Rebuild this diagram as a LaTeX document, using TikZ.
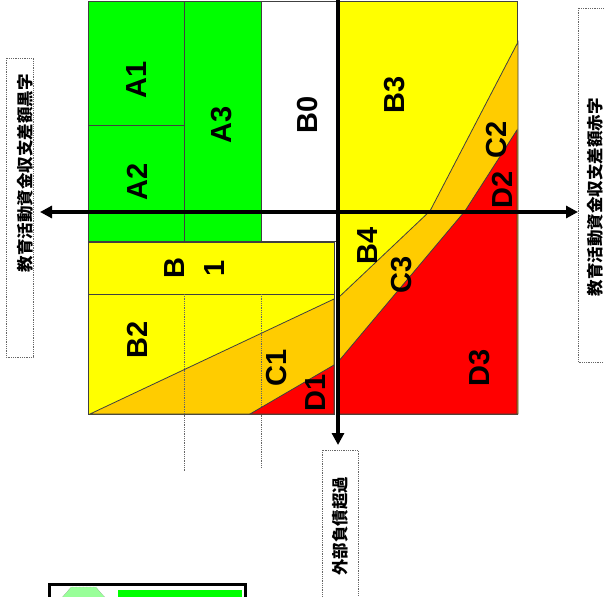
\documentclass[tikz,border=0pt]{standalone}
\usepackage{fontspec}
\setmainfont{Liberation Sans}
\newfontfamily\jpfont{Noto Sans CJK JP}
\usetikzlibrary{arrows.meta}
\definecolor{zoneA}{HTML}{00FF00}
\definecolor{zoneB}{HTML}{FFFF00}
\definecolor{zoneC}{HTML}{FFCC00}
\definecolor{zoneD}{HTML}{FF0000}
\definecolor{legendA}{HTML}{99FF99}

\begin{document}
\begin{tikzpicture}[x=1pt, y=-1pt,
  every node/.style={font=\bfseries\fontsize{29}{40}\selectfont, rotate=90, inner sep=0pt, align=center},
  zone/.style={draw=black!75, line width=0.8pt},
  guide/.style={draw=black!60, densely dotted, line width=0.8pt},
  axis/.style={line width=4pt},
  tag/.style={font=\jpfont\bfseries\fontsize{16.5}{18}\selectfont},
  tagbox/.style={draw=black!60, densely dotted, line width=0.8pt}]
  \useasboundingbox (0,0) rectangle (604,596);

  % left half
  \path[zone, fill=zoneA] (88,1) rectangle (184,125);
  \path[zone, fill=zoneA] (88,125) rectangle (184,241);
  \path[zone, fill=zoneA] (184,1) rectangle (261,241);
  \path[zone, fill=white] (261,1) rectangle (338,241);
  \path[zone, fill=zoneB] (88,242) rectangle (334,294);
  \path[zone, fill=zoneB] (88,294) rectangle (334,414);
  \path[zone, fill=zoneC] (90,414) -- (334,299) -- (334,414) -- cycle;
  \draw[guide] (184,294) -- (184,472);
  \draw[guide] (261,294) -- (261,467);
  \path[zone, fill=zoneD] (250,414) -- (334,365) -- (334,414) -- cycle;

  % right half
  \path[zone, fill=zoneB] (338,1) rectangle (517,414);
  \path[zone, fill=zoneC] (338,298) -- (430,211) -- (518,42) -- (518,414) -- (338,414) -- cycle;
  \path[zone, fill=zoneD] (338,362) -- (465,211) -- (517,130) -- (517,414) -- (338,414) -- cycle;

  % axes
  \coordinate (west) at (40,212);
  \coordinate (east) at (578,212);
  \coordinate (north) at (338,0);
  \coordinate (south) at (338,445);
  \draw[axis, {Triangle[length=12pt,width=12pt]}-{Triangle[length=12pt,width=12pt]}] (west) -- (east);
  \draw[axis, -{Triangle[length=12pt,width=12pt]}] (north) -- (south);

  % zone labels
  \node (a1) at (137,80) {A1};
  \node (a2) at (137,182) {A2};
  \node (a3) at (222,125) {A3};
  \node (b0) at (308,115) {B0};
  \node (b1) at (195,268) {B\\1};
  \node (b2) at (137,340) {B2};
  \node (b3) at (395,95) {B3};
  \node (b4) at (368,246) {B4};
  \node (c1) at (277,368) {C1};
  \node (c2) at (497,140) {C2};
  \node (c3) at (402,275) {C3};
  \node (d1) at (316,393) {D1};
  \node (d2) at (502,190) {D2};
  \node (d3) at (480,368) {D3};

  % side tags
  \draw[tagbox] (6,58) rectangle (33,357);
  \node[tag] (surplus) at (25,173) {教育活動資金収支差額黒字};
  \draw[tagbox] (578,8) rectangle (612,362);
  \node[tag] (deficit) at (595,197) {教育活動資金収支差額赤字};
  \draw[tagbox] (322,450) rectangle (358,602);
  \node[tag] (overdebt) at (340,526) {外部負債超過};

  % legend (cut off)
  \draw[line width=3pt] (49,584) rectangle (245,604);
  \path[fill=legendA, draw=black!50, densely dotted] (60,600) -- (71,587) -- (96,587) -- (107,600) -- cycle;
  \fill[zoneA] (118,590) rectangle (242,600);
\end{tikzpicture}
\end{document}
